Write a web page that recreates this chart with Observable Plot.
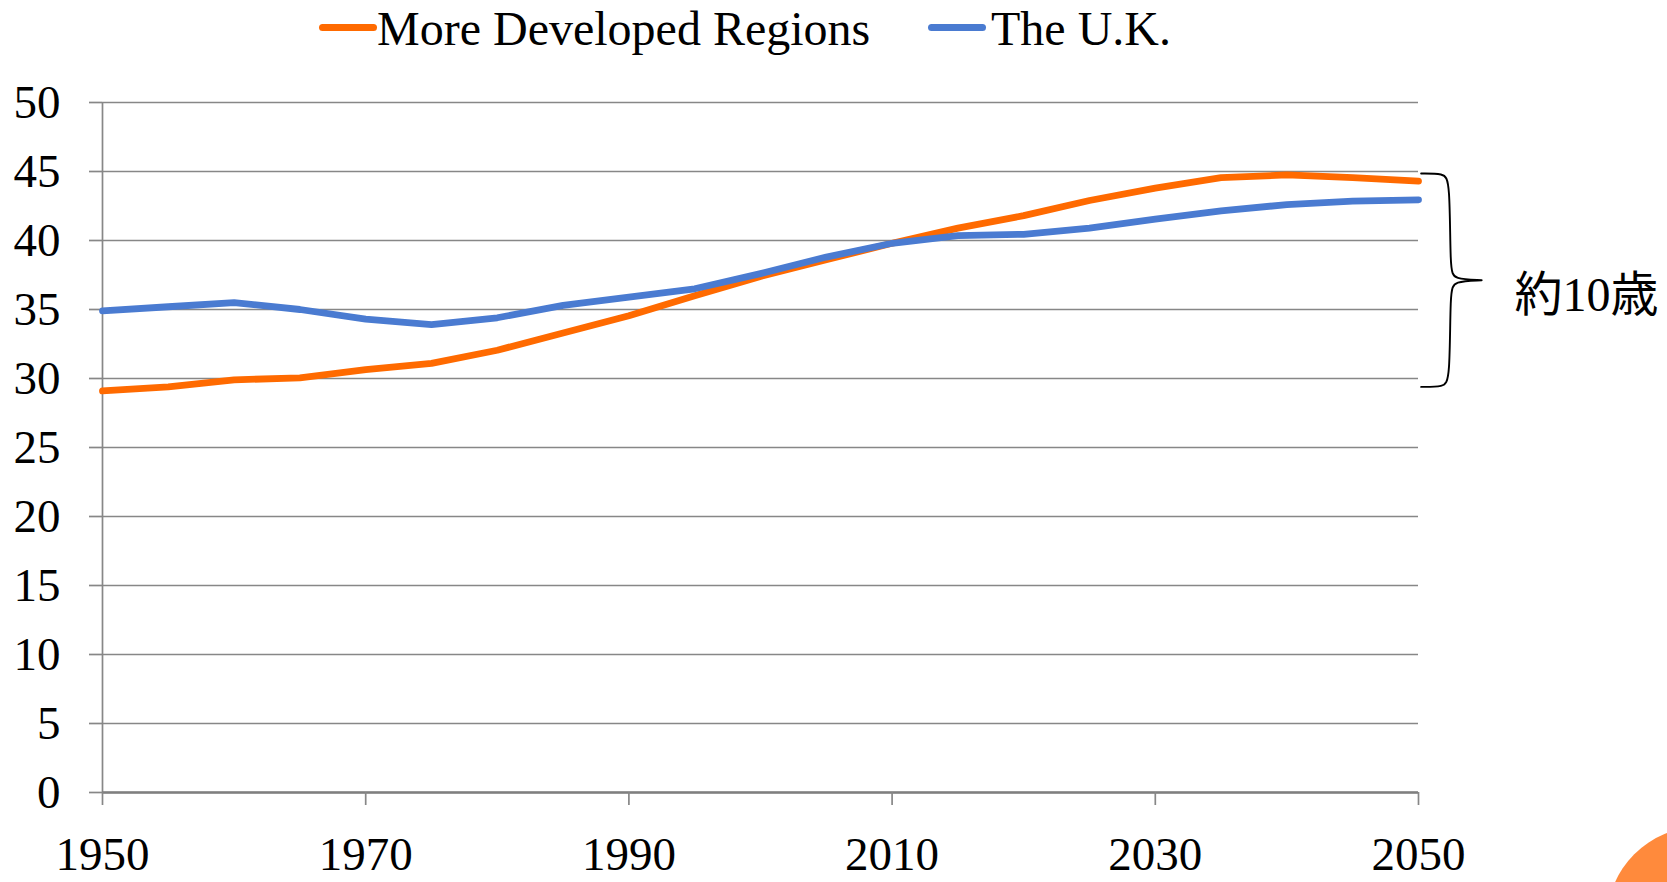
<!DOCTYPE html>
<html>
<head>
<meta charset="utf-8">
<script src="https://cdn.jsdelivr.net/npm/d3@7"></script>
<script src="https://cdn.jsdelivr.net/npm/@observablehq/plot@0.6"></script>
<style>
  html, body { margin: 0; padding: 0; background: #fff; overflow: hidden; }
  #wrap { position: relative; width: 1667px; height: 882px; overflow: hidden;
          font-family: "Liberation Serif", "Times New Roman", "Noto Sans CJK JP", serif; }
  #legend { position: relative; width: 1667px; height: 80px; }
  .sw { position: absolute; height: 7px; border-radius: 3.5px; }
  .lt { position: absolute; font-size: 48px; line-height: 1; color: #000; white-space: nowrap; }
  #deco { position: absolute; left: 1607px; top: 827px; width: 186px; height: 186px;
          border-radius: 50%; background: #ff8a3c; }
</style>
</head>
<body>
<div id="wrap">
  <div id="legend"></div>
  <div id="chart"></div>
  <div id="deco"></div>
</div>
<script>
// ---- data ----
const years = [1950, 1955, 1960, 1965, 1970, 1975, 1980, 1985, 1990, 1995, 2000,
               2005, 2010, 2015, 2020, 2025, 2030, 2035, 2040, 2045, 2050];
const moreDeveloped = [29.1, 29.4, 29.9, 30.05, 30.65, 31.1, 32.05, 33.3, 34.55, 36.0, 37.4,
                       38.6, 39.8, 40.9, 41.8, 42.9, 43.8, 44.55, 44.75, 44.55, 44.3];
const uk = [34.9, 35.2, 35.5, 35.0, 34.3, 33.9, 34.4, 35.3, 35.9, 36.5, 37.6,
            38.8, 39.8, 40.35, 40.45, 40.9, 41.55, 42.15, 42.6, 42.85, 42.95];
const seriesNames = ["More Developed Regions", "The U.K."];
const seriesColors = ["#ff6a00", "#4a7bd1"];
const yTicks = [0, 5, 10, 15, 20, 25, 30, 35, 40, 45, 50];
const xTicks = [1950, 1970, 1990, 2010, 2030, 2050];
const annotationText = "約10歳";
// curly brace annotation (in data units: year, median age)
const braceYears  = [2050.2, 2051.9, 2052.4, 2052.4, 2052.7, 2054.8, 2054.8, 2054.8, 2052.7, 2052.4, 2052.4, 2051.9, 2050.2];
const braceValues = [44.86, 44.86, 44.4, 37.8, 37.2, 37.12, 37.12, 37.12, 37.04, 36.4, 29.85, 29.39, 29.39];
const annotationPos = {year: 2057.3, value: 36.0};

// ---- build tables ----
const rows = [];
years.forEach((y, i) => {
  rows.push({year: y, value: moreDeveloped[i], series: seriesNames[0]});
});
years.forEach((y, i) => {
  rows.push({year: y, value: uk[i], series: seriesNames[1]});
});
const brace = braceYears.map((y, i) => ({year: y, value: braceValues[i]}));

// ---- legend ----
const legend = document.getElementById("legend");
const legendItems = [
  {name: seriesNames[0], color: seriesColors[0], sw: 319, tx: 377},
  {name: seriesNames[1], color: seriesColors[1], sw: 928, tx: 991}
];
legendItems.forEach(it => {
  const s = document.createElement("div");
  s.className = "sw";
  s.style.left = it.sw + "px"; s.style.top = "24px"; s.style.width = "58px";
  s.style.background = it.color;
  legend.appendChild(s);
  const t = document.createElement("div");
  t.className = "lt";
  t.style.left = it.tx + "px"; t.style.top = "5px";
  t.textContent = it.name;
  legend.appendChild(t);
});

// ---- chart ----
const gray = "#878787";
const chart = Plot.plot({
  width: 1667,
  height: 802,
  marginLeft: 102,
  marginRight: 249,
  marginTop: 22,
  marginBottom: 90,
  style: {
    fontFamily: "'Liberation Serif', 'Times New Roman', 'Noto Sans CJK JP', serif",
    fontSize: "47px",
    color: "#000",
    background: "#fff",
    overflow: "visible"
  },
  x: {domain: [1950, 2050]},
  y: {domain: [0, 50]},
  color: {domain: seriesNames, range: seriesColors},
  marks: [
    Plot.gridY(yTicks, {stroke: gray, strokeOpacity: 1, strokeWidth: 1.7}),
    Plot.ruleX([1950], {y1: 0, y2: 50, stroke: gray, strokeWidth: 1.7}),
    Plot.ruleY([0], {stroke: "#7f7f7f", strokeWidth: 2.6}),
    Plot.axisY({ticks: yTicks, tickSize: 13, tickPadding: 29, stroke: gray, strokeWidth: 1.7,
                fill: "#000", label: null, fontSize: 47}),
    Plot.axisX({ticks: xTicks, tickSize: 13, tickPadding: 31, stroke: gray, strokeWidth: 1.7,
                fill: "#000", label: null, fontSize: 47, tickFormat: d => String(d)}),
    Plot.line(rows, {x: "year", y: "value", z: "series", stroke: "series",
                     strokeWidth: 6.8, strokeLinecap: "round", strokeLinejoin: "round"}),
    Plot.line(brace, {x: "year", y: "value", curve: "basis", stroke: "#000", strokeWidth: 1.9}),
    Plot.text([annotationText], {x: () => annotationPos.year, y: () => annotationPos.value,
                                 text: d => d, textAnchor: "start", fontSize: 48, fill: "#000"})
  ]
});
document.getElementById("chart").appendChild(chart);
</script>
</body>
</html>
